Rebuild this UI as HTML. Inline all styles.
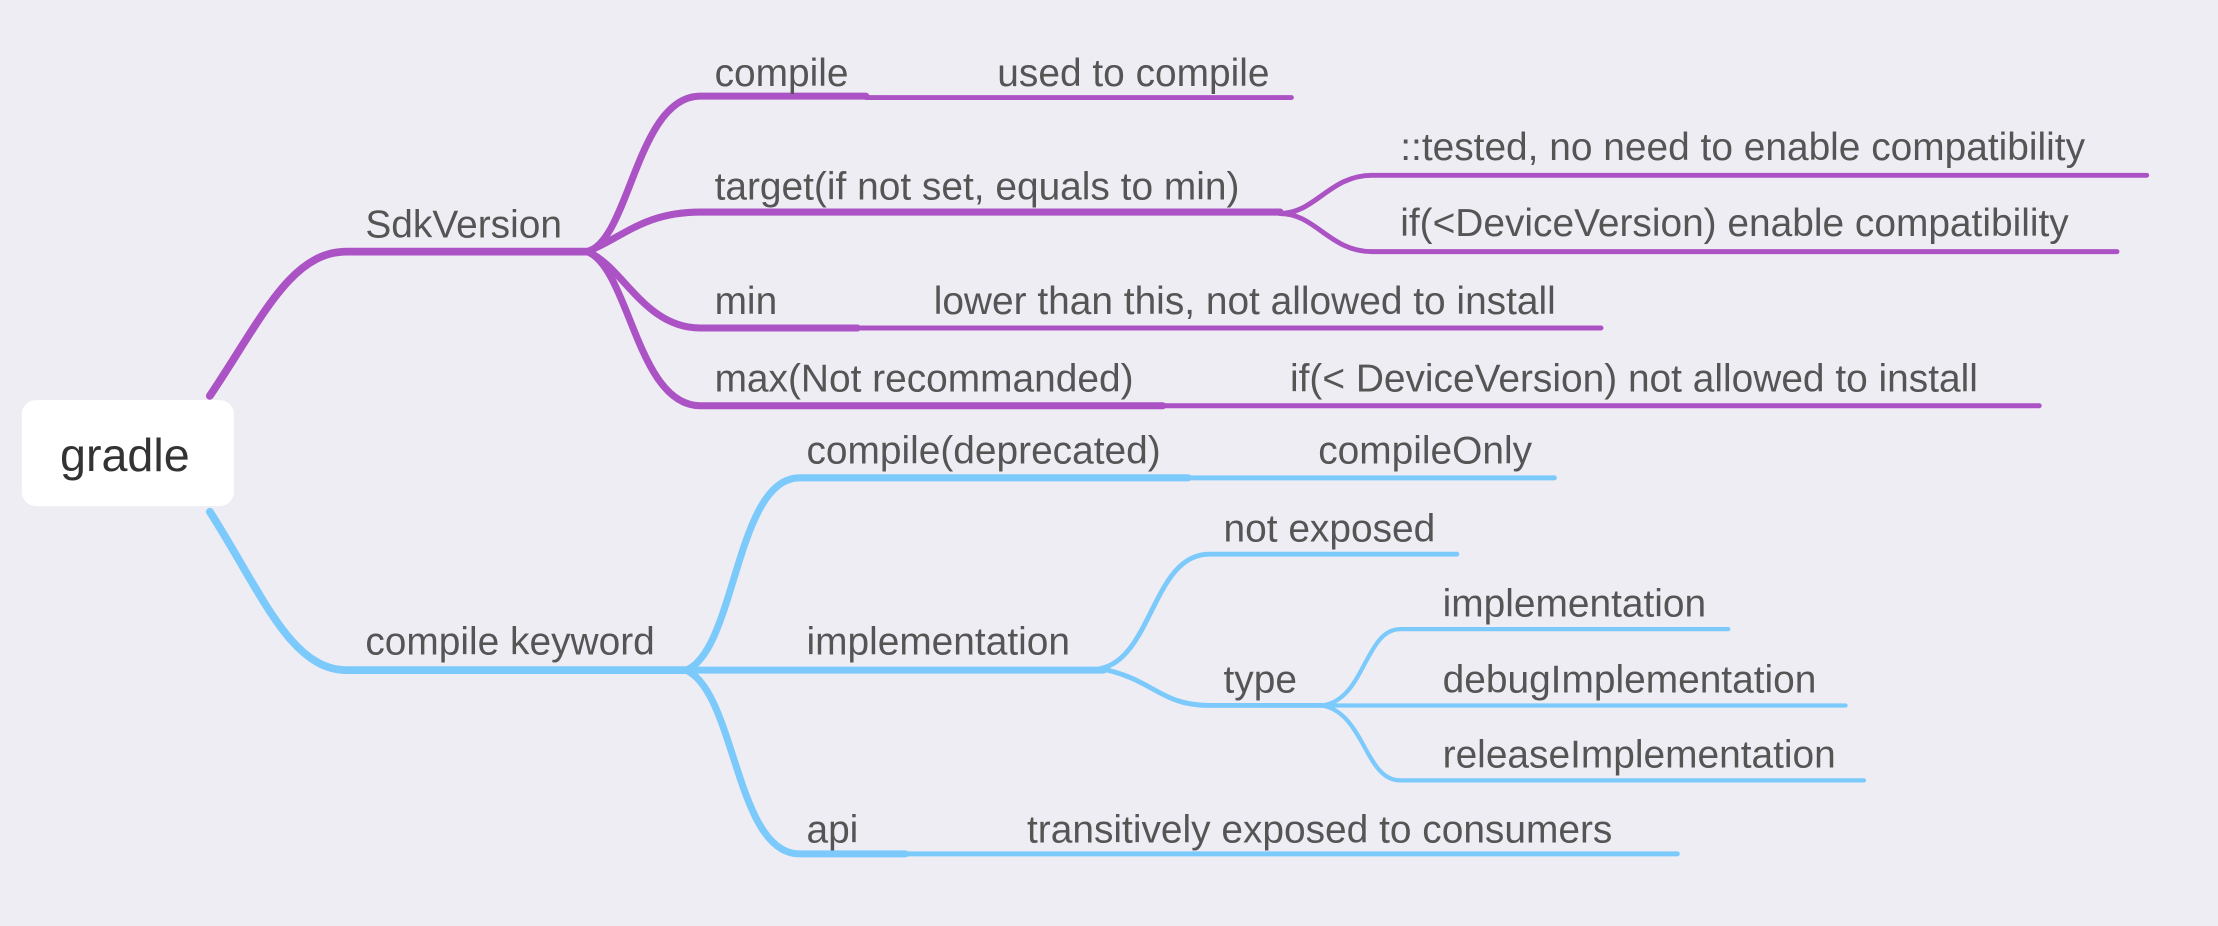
<!DOCTYPE html>
<html><head><meta charset="utf-8"><style>
html,body{margin:0;padding:0;background:#eeedf3;}
svg{display:block;}
text{font-family:"Liberation Sans",Arial,sans-serif;fill:#555;font-size:27.5px;}
</style></head><body>
<svg width="2218" height="926" viewBox="0 0 1568 655" xmlns="http://www.w3.org/2000/svg">
<rect width="1568" height="655" fill="#eeedf3"/>
<g fill="none" stroke-linecap="round" stroke="#ab52c5">
<path d="M148 280 C185 225 205 178 245 178 L415 178" stroke-width="5.5"/>
<path d="M415 178 C445 170 450 68 495 68 L612 68" stroke-width="5"/>
<path d="M612 69 L913 69" stroke-width="3.5"/>
<path d="M415 178 C440 168 455 150 495 150 L905 150" stroke-width="5"/>
<path d="M905 151 C930 151 940 124 970 124 L1518 124" stroke-width="3.5"/>
<path d="M905 151 C930 151 940 178 970 178 L1497 178" stroke-width="3.5"/>
<path d="M415 178 C440 188 455 232 495 232 L606 232" stroke-width="5"/>
<path d="M606 232 L1132 232" stroke-width="3.5"/>
<path d="M415 178 C445 190 450 287 495 287 L822 287" stroke-width="5"/>
<path d="M822 287 L1442 287" stroke-width="3.5"/>
</g>
<g fill="none" stroke-linecap="round" stroke="#7ccafb">
<path d="M148 362 C185 420 205 474 245 474 L485 474" stroke-width="5.5"/>
<path d="M485 474 C520 460 520 338 565 338 L840 338" stroke-width="5"/>
<path d="M840 338 L1099 338" stroke-width="3.5"/>
<path d="M485 474 L780 474" stroke-width="5"/>
<path d="M485 474 C520 490 520 604 565 604 L640 604" stroke-width="5"/>
<path d="M640 604 L1186 604" stroke-width="3.5"/>
<path d="M778 473 C815 465 815 392 855 392 L1030 392" stroke-width="3.5"/>
<path d="M778 473 C815 480 820 499 855 499 L935 499" stroke-width="3.5"/>
<path d="M935 499 C965 495 965 445 990 445 L1222 445" stroke-width="3"/>
<path d="M935 499 L1305 499" stroke-width="3"/>
<path d="M935 499 C965 505 965 552 990 552 L1318 552" stroke-width="3"/>
</g>
<rect x="15" y="283" width="150" height="75" rx="10" fill="#ffffff"/>
<text x="42" y="333" style="font-size:33px;fill:#333">gradle</text>
<text x="258" y="168">SdkVersion</text>
<text x="505" y="61">compile</text>
<text x="705" y="61">used to compile</text>
<text x="505" y="141">target(if not set, equals to min)</text>
<text x="990" y="113">::tested, no need to enable compatibility</text>
<text x="990" y="167">if(&lt;DeviceVersion) enable compatibility</text>
<text x="505" y="222">min</text>
<text x="660" y="222">lower than this, not allowed to install</text>
<text x="505" y="277">max(Not recommanded)</text>
<text x="912" y="277">if(&lt; DeviceVersion) not allowed to install</text>
<text x="258" y="463">compile keyword</text>
<text x="570" y="328">compile(deprecated)</text>
<text x="932" y="328">compileOnly</text>
<text x="570" y="463">implementation</text>
<text x="865" y="383">not exposed</text>
<text x="865" y="490">type</text>
<text x="1020" y="436">implementation</text>
<text x="1020" y="490">debugImplementation</text>
<text x="1020" y="543">releaseImplementation</text>
<text x="570" y="596">api</text>
<text x="726" y="596">transitively exposed to consumers</text>
</svg>
</body></html>
